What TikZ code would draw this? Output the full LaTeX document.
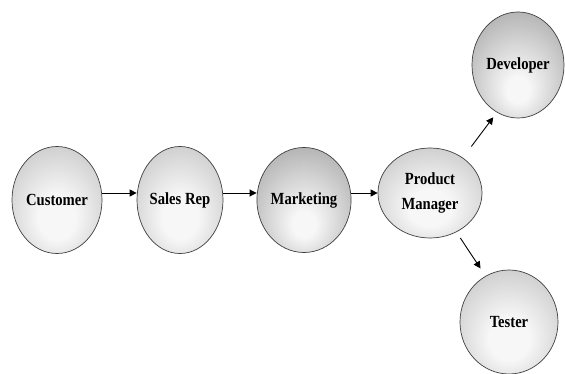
\documentclass[tikz,border=0pt]{standalone}
\usepackage{fontspec}
\setmainfont{Liberation Serif}[FakeStretch=0.86]
\usetikzlibrary{shapes.geometric,arrows.meta}
\definecolor{ballwhite}{gray}{0.97}
\definecolor{lightedge}{gray}{0.6}
\definecolor{darkedge}{gray}{0.42}
\pgfdeclareradialshading{lightball}{\pgfpoint{0bp}{-10bp}}{color(0bp)=(ballwhite); color(10bp)=(ballwhite); color(58bp)=(lightedge)}
\pgfdeclareradialshading{darkball}{\pgfpoint{0bp}{-13bp}}{color(0bp)=(ballwhite); color(6bp)=(ballwhite); color(60bp)=(darkedge)}
\begin{document}
\begin{tikzpicture}[x=1pt,y=-1pt,
  ball/.style={ellipse, draw=black!75, line width=0.7pt, inner sep=0pt,
    font=\bfseries\fontsize{17}{25}\selectfont, align=center},
  light/.style={ball, shading=lightball},
  dark/.style={ball, shading=darkball},
  arr/.style={line width=0.9pt, -{Triangle[length=7pt,width=7pt]}}]
\useasboundingbox (0,0) rectangle (565,374);
\node[light, minimum width=90pt, minimum height=107pt] (cust) at (57,200) {Customer};
\node[light, minimum width=86pt, minimum height=107pt] (sales) at (180,200) {Sales Rep};
\node[dark, minimum width=78pt, minimum height=105pt] (mkt) at (304,200) {Marketing};
\node[light, minimum width=104pt, minimum height=90pt] (pm) at (430,193) {Product\\Manager};
\node[dark, minimum width=92pt, minimum height=106pt] (dev) at (518,65) {Developer};
\node[light, minimum width=98pt, minimum height=104pt] (test) at (509,322) {Tester};
\draw[arr] ([yshift=7pt]cust.east) -- ([yshift=7pt]sales.west);
\draw[arr] ([yshift=7pt]sales.east) -- ([yshift=7pt]mkt.west);
\draw[arr] ([yshift=7pt]mkt.east) -- (pm.west);
\draw[arr, shorten <=14pt, shorten >=6pt] (pm.47) -- (dev.246);
\draw[arr, shorten <=7pt, shorten >=9pt] (pm.-56) -- (test.117);
\end{tikzpicture}
\end{document}
